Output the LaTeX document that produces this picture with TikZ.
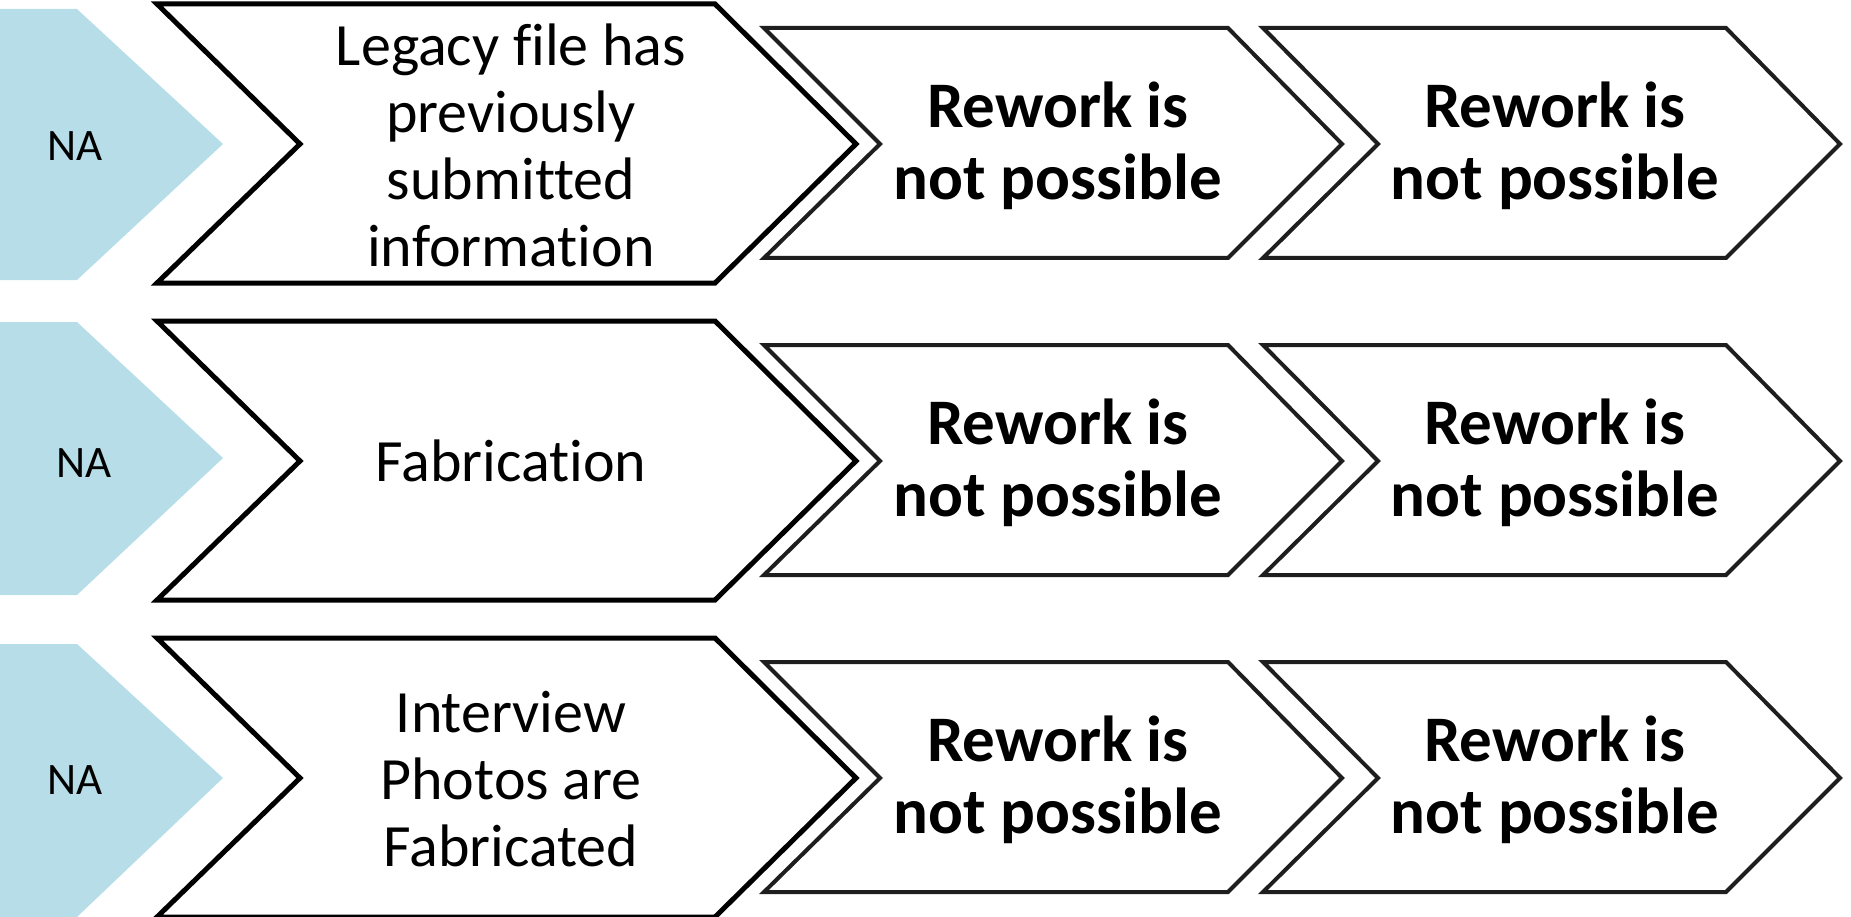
\documentclass[tikz,border=0pt]{standalone}
\usepackage{fontspec}
\setmainfont{Carlito}[Ligatures={NoCommon}]
\definecolor{nablue}{RGB}{183,222,232}
\definecolor{edgeA}{RGB}{0,0,0}
\definecolor{edgeB}{RGB}{30,30,30}
\tikzset{
  nashape/.style={fill=nablue, draw=none},
  chevA/.style={draw=edgeA, line width=5pt, fill=white, line join=miter},
  chevB/.style={draw=edgeB, line width=4pt, fill=white, line join=miter},
  regtext/.style={font=\fontsize{60}{67}\selectfont, align=center, inner sep=0pt},
  boldtext/.style={font=\bfseries\fontsize{65}{72}\selectfont, align=center, inner sep=0pt},
  natext/.style={font=\fontsize{45}{50}\selectfont, inner sep=0pt},
}
\begin{document}
\begin{tikzpicture}[x=1pt, y=-1pt]
\useasboundingbox (0,0) rectangle (1851,917);
% ---------- row 1 ----------
\begin{scope}
  \fill[nashape] (0,9) -- (77,9) -- (223,144) -- (77,280) -- (0,280) -- cycle;
  \draw[chevA] (157,4) -- (715,4) -- (856,144) -- (715,283) -- (157,283) -- (300,144) -- cycle;
  \draw[chevB] (764,28) -- (1228,28) -- (1342,144) -- (1228,258) -- (764,258) -- (880,144) -- cycle;
  \draw[chevB] (1263,28) -- (1726,28) -- (1840,144) -- (1726,258) -- (1263,258) -- (1378,144) -- cycle;
  \node[natext] (na1) at (75,146) {NA};
  \node[regtext] (a1) at (511,145) {Legacy file has\\previously\\submitted\\information};
  \node[boldtext] (b1) at (1058,146) {Rework is\\not possible};
  \node[boldtext] (c1) at (1555,146) {Rework is\\not possible};
\end{scope}
% ---------- row 2 ----------
\begin{scope}[yshift=-317pt]
  \fill[nashape] (0,5) -- (77,5) -- (223,141) -- (77,278) -- (0,278) -- cycle;
  \draw[chevA] (157,4) -- (715,4) -- (856,144) -- (715,283) -- (157,283) -- (300,144) -- cycle;
  \draw[chevB] (764,28) -- (1228,28) -- (1342,144) -- (1228,258) -- (764,258) -- (880,144) -- cycle;
  \draw[chevB] (1263,28) -- (1726,28) -- (1840,144) -- (1726,258) -- (1263,258) -- (1378,144) -- cycle;
  \node[natext] (na2) at (84,146) {NA};
  \node[regtext] (a2) at (511,144) {Fabrication};
  \node[boldtext] (b2) at (1058,146) {Rework is\\not possible};
  \node[boldtext] (c2) at (1555,146) {Rework is\\not possible};
\end{scope}
% ---------- row 3 ----------
\begin{scope}[yshift=-634pt]
  \fill[nashape] (0,10) -- (77,10) -- (223,144) -- (77,283) -- (0,283) -- cycle;
  \draw[chevA] (157,4) -- (715,4) -- (856,144) -- (715,283) -- (157,283) -- (300,144) -- cycle;
  \draw[chevB] (764,28) -- (1228,28) -- (1342,144) -- (1228,258) -- (764,258) -- (880,144) -- cycle;
  \draw[chevB] (1263,28) -- (1726,28) -- (1840,144) -- (1726,258) -- (1263,258) -- (1378,144) -- cycle;
  \node[natext] (na3) at (75,146) {NA};
  \node[regtext] (a3) at (511,145) {Interview\\Photos are\\Fabricated};
  \node[boldtext] (b3) at (1058,146) {Rework is\\not possible};
  \node[boldtext] (c3) at (1555,146) {Rework is\\not possible};
\end{scope}
\end{tikzpicture}
\end{document}
